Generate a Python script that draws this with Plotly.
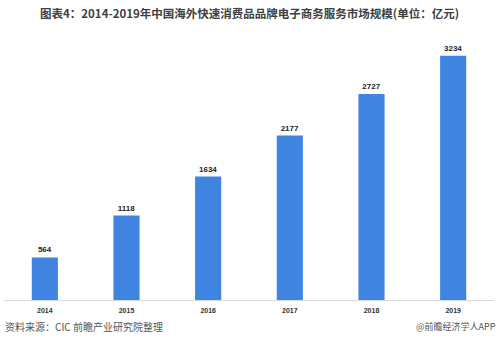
import plotly.graph_objects as go

years = ["2014", "2015", "2016", "2017", "2018", "2019"]
values = [564, 1118, 1634, 2177, 2727, 3234]
title_text = "图表4：2014-2019年中国海外快速消费品品牌电子商务服务市场规模(单位：亿元)"
source_text = "资料来源：CIC 前瞻产业研究院整理"
credit_text = "@前瞻经济学人APP"

fig = go.Figure(go.Bar(
    x=years, y=values,
    marker=dict(color="#3e84e0", line=dict(width=0)),
    width=0.32,
    text=[str(v) for v in values],
    textposition="outside",
    textfont=dict(family="Liberation Sans, Arial, sans-serif", size=8, color="#222222"),
    texttemplate="<b>%{text}</b>",
    cliponaxis=False,
))

fig.update_layout(
    width=499, height=351,
    margin=dict(l=4, r=5, t=28, b=51),
    paper_bgcolor="white", plot_bgcolor="white",
    showlegend=False,
    xaxis=dict(
        showgrid=False, showline=True, linecolor="#d9d9d9", linewidth=1,
        ticks="", ticklabelstandoff=4,
        tickfont=dict(family="Liberation Sans, Arial, sans-serif", size=7, color="#333333"),
        tickprefix="<b>", ticksuffix="</b>",
    ),
    yaxis=dict(range=[0, 3600], visible=False, showgrid=False, zeroline=False),
    annotations=[
        dict(text="<b>" + title_text + "</b>", xref="paper", yref="paper",
             x=0.5, y=1, yshift=28 - 13, xanchor="center", yanchor="middle",
             showarrow=False,
             font=dict(family="Noto Sans CJK SC", size=11.5, color="#404040")),
        dict(text=source_text, xref="paper", yref="paper",
             x=0, xshift=-1, y=0, yshift=-26, xanchor="left", yanchor="middle",
             showarrow=False,
             font=dict(family="Noto Sans CJK SC", size=10, color="#555555")),
        dict(text=credit_text, xref="paper", yref="paper",
             x=1, xshift=4, y=0, yshift=-26, xanchor="right", yanchor="middle",
             showarrow=False,
             font=dict(family="Noto Sans CJK SC", size=9, color="#555555")),
    ],
)

fig.write_html("out.html")
